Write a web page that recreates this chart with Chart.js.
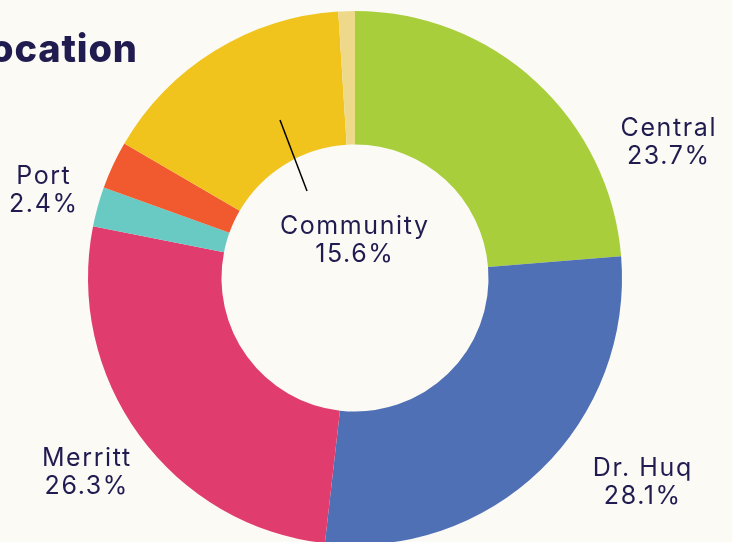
<!DOCTYPE html>
<html>
<head>
<meta charset="utf-8">
<script src="https://cdn.jsdelivr.net/npm/chart.js@4/dist/chart.umd.min.js"></script>
<style>
html,body{margin:0;padding:0;background:#FBFAF5;overflow:hidden;width:732px;height:542px;}
#wrap{position:absolute;left:0;top:0;width:732px;height:542px;overflow:hidden;}
canvas{display:block;}
</style>
</head>
<body>
<div id="wrap"><canvas id="c" width="732" height="560"></canvas></div>
<script>
const categories = ["Central", "Dr. Huq", "Merritt", "Port", "Other", "Community", "Misc"];
const values = [23.7, 28.1, 26.3, 2.4, 2.9, 15.6, 1.0];
const colors = ["#A8CF3B", "#5070B6", "#E03C6E", "#69C9C3", "#F1592F", "#F0C31D", "#EED98B"];
const shownLabels = ["Central", "Dr. Huq", "Merritt", "Port", "Community"];
const titleText = "Location";

const textColor = "#211C50";
const labelFont = "25px Inter, 'Noto Sans', sans-serif";

// label anchors relative to chart centre (dx, dy of first line's centre)
const labelAnchors = {
  "Central":  [313, -150],
  "Dr. Huq":  [287, 190],
  "Merritt":  [-269, 180],
  "Port":     [-312, -102],
  "Community":[-1, -52]
};

const labelPlugin = {
  id: 'labels',
  afterDraw(chart) {
    const ctx = chart.ctx;
    const meta = chart.getDatasetMeta(0);
    const arc0 = meta.data[0];
    const cx = arc0.x, cy = arc0.y;
    ctx.save();
    // title (partially cropped at left)
    ctx.font = "800 38px Inter, 'Noto Sans', sans-serif";
    ctx.fillStyle = textColor;
    ctx.textBaseline = 'alphabetic';
    ctx.textAlign = 'left';
    const visible = titleText.slice(1);
    const w0 = ctx.measureText(visible).width;
    const ls = Math.max(0, (147 - w0) / (visible.length - 1));
    ctx.letterSpacing = ls.toFixed(2) + 'px';
    const wFirst = ctx.measureText(titleText[0]).width;
    ctx.fillText(titleText, -10 - wFirst, 62);

    ctx.font = labelFont;
    ctx.letterSpacing = '1.6px';
    ctx.textAlign = 'center';
    ctx.textBaseline = 'middle';
    shownLabels.forEach(name => {
      const i = categories.indexOf(name);
      const a = labelAnchors[name];
      const x = cx + a[0] + 0.8, y = cy + a[1];
      ctx.fillStyle = textColor;
      ctx.fillText(name, x, y);
      ctx.fillText(values[i].toFixed(1) + "%", x, y + 28);
    });
    ctx.letterSpacing = '0px';
    // leader line for Community
    ctx.strokeStyle = "#000";
    ctx.lineWidth = 1.5;
    ctx.beginPath();
    ctx.moveTo(cx - 75, cy - 158);
    ctx.lineTo(cx - 48, cy - 87);
    ctx.stroke();
    ctx.restore();
  }
};

new Chart(document.getElementById('c'), {
  type: 'doughnut',
  data: {
    labels: categories,
    datasets: [{
      data: values,
      backgroundColor: colors,
      borderWidth: 0,
      hoverOffset: 0
    }]
  },
  options: {
    responsive: false,
    animation: false,
    cutout: '50%',
    layout: { padding: { top: 11, bottom: 15, left: 0, right: 22 } },
    plugins: { legend: { display: false }, tooltip: { enabled: false } }
  },
  plugins: [labelPlugin]
});
</script>
</body>
</html>
